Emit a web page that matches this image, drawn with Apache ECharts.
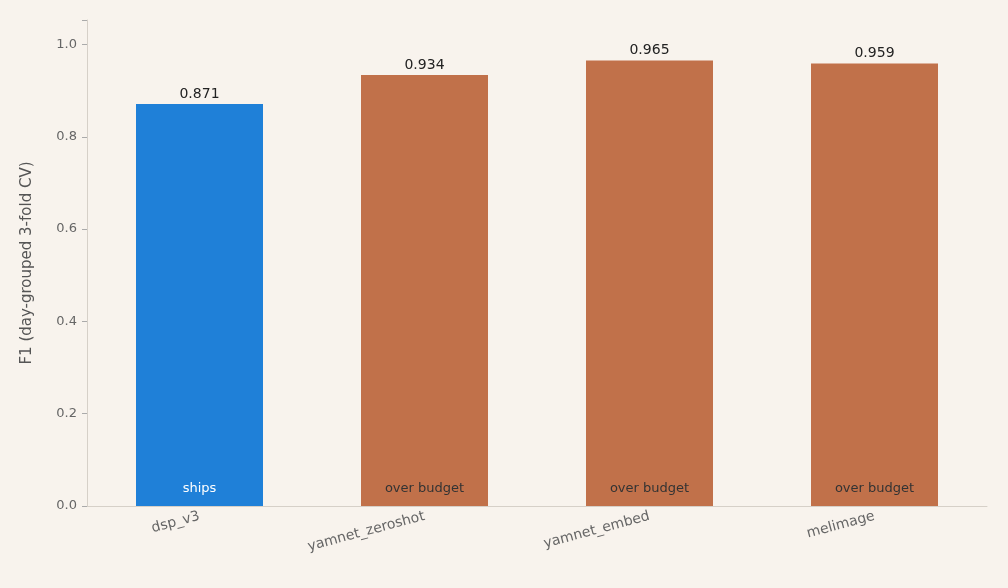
<!DOCTYPE html>
<html><head><meta charset="utf-8">
<script src="https://cdn.jsdelivr.net/npm/echarts@6/dist/echarts.min.js"></script>
<style>html,body{margin:0;background:#f8f3ed}#c{width:1008px;height:588px}</style>
</head><body><div id="c"></div>
<script>
const categories = ['dsp_v3','yamnet_zeroshot','yamnet_embed','melimage'];
const f1 = [0.871,0.934,0.965,0.959];
const notes = ['ships','over budget','over budget','over budget'];
const colors = ['#1f80d8','#c1714a','#c1714a','#c1714a'];
const noteColors = ['#ffffff','#333333','#333333','#333333'];
const F = 'DejaVu Sans';
const chart = echarts.init(document.getElementById('c'));
chart.setOption({
  backgroundColor:'#f8f3ed',
  animation:false,
  grid:{left:87,right:21,top:20,bottom:82},
  xAxis:{type:'category',data:categories,
    axisLine:{lineStyle:{color:'#d6d0c8'}},
    axisTick:{alignWithLabel:true,length:5,lineStyle:{color:'#aaa'}},
    axisLabel:{rotate:15,color:'#666',fontFamily:F,fontSize:14,margin:10}},
  yAxis:{type:'value',min:0,max:1.053,interval:0.2,
    name:'F1 (day-grouped 3-fold CV)',nameLocation:'middle',nameGap:52,
    nameTextStyle:{color:'#555',fontFamily:F,fontSize:15},
    splitLine:{show:false},
    axisLine:{show:true,lineStyle:{color:'#d6d0c8'}},
    axisTick:{show:true,length:5,lineStyle:{color:'#aaa'}},
    axisLabel:{color:'#666',fontFamily:F,fontSize:13,margin:10,
      formatter:v=>v>1.01?'':v.toFixed(1)}},
  series:[
    {type:'bar',barWidth:127,
     data:f1.map((v,i)=>({value:v,itemStyle:{color:colors[i]}})),
     label:{show:true,position:'top',distance:3,color:'#222',fontFamily:F,fontSize:14,
       formatter:p=>p.value.toFixed(3)}},
    {type:'bar',barWidth:127,barGap:'-100%',
     data:f1.map((v,i)=>({value:v,itemStyle:{color:'rgba(0,0,0,0)'},
       label:{color:noteColors[i]}})),
     label:{show:true,position:'insideBottom',distance:11,fontFamily:F,fontSize:13,
       formatter:p=>notes[p.dataIndex]}}
  ]
});
</script></body></html>
